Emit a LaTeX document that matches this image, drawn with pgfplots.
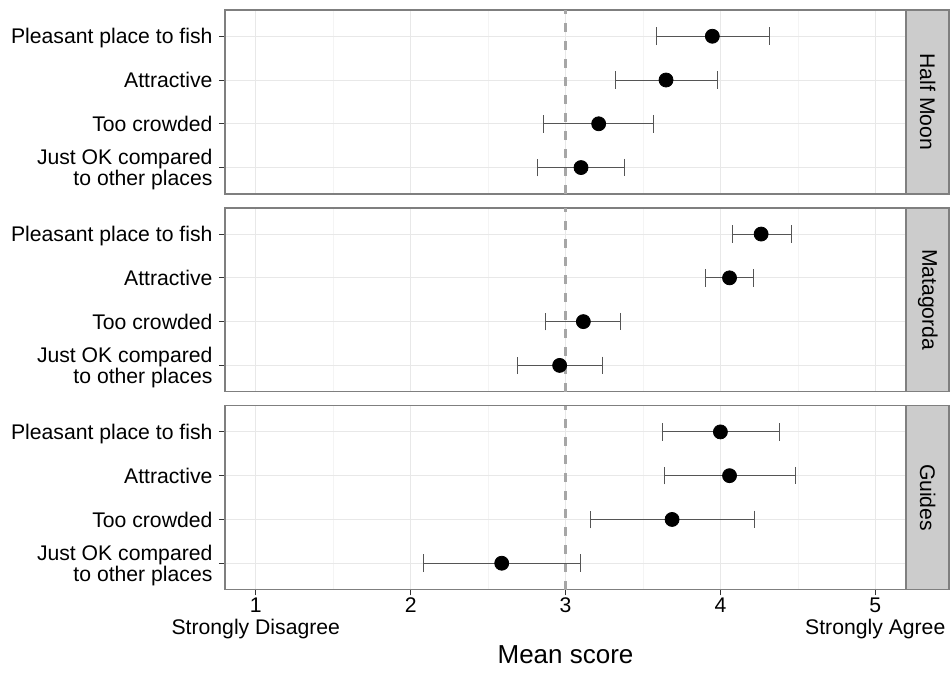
\documentclass[border=0pt]{standalone}
\usepackage{pgfplots}
\pgfplotsset{compat=1.18}
\usepackage{pgfplotstable}
\usepackage{fontspec}
\setmainfont{Liberation Sans}
\usetikzlibrary{calc}

\definecolor{bordc}{HTML}{7F7F7F}
\definecolor{stripc}{HTML}{CCCCCC}
\definecolor{gridc}{HTML}{E8E8E8}
\definecolor{gridm}{HTML}{F4F4F4}
\definecolor{errc}{HTML}{555555}
\definecolor{dashc}{HTML}{A6A6A6}
\definecolor{tickc}{HTML}{333333}

\pgfplotstableread{
y mean lo hi
4 3.948 3.589 4.314
3 3.649 3.325 3.981
2 3.214 2.858 3.565
1 3.100 2.822 3.382
}\halfmoon
\pgfplotstableread{
y mean lo hi
4 4.263 4.077 4.458
3 4.059 3.906 4.212
2 3.115 2.870 3.358
1 2.962 2.690 3.238
}\matagorda
\pgfplotstableread{
y mean lo hi
4 4.000 3.628 4.380
3 4.059 3.637 4.488
2 3.688 3.160 4.218
1 2.588 2.085 3.094
}\guides

\pgfplotsset{
  facet/.style={
    scale only axis, width=341pt, height=92pt,
    anchor=south west,
    xmin=0.8, xmax=5.2, ymin=0.4, ymax=4.6,
    xtick={1,2,3,4,5}, minor xtick={1.5,2.5,3.5,4.5},
    ytick={1,2,3,4},
    yticklabels={{Just OK compared\\to other places},{Too crowded},{Attractive},{Pleasant place to fish}},
    yticklabel style={align=right, font=\fontsize{10.6}{10.6}\selectfont, inner sep=0pt, xshift=-3pt, text depth=0pt, text=black},
    xtick pos=bottom, ytick pos=left,
    grid=both,
    major grid style={draw=gridc, line width=0.5pt},
    minor grid style={draw=gridm, line width=0.3pt},
    axis line style={draw=bordc, line width=0.8pt},
    tick align=outside,
    major tick length=3pt, minor tick length=0pt,
    tick style={draw=tickc, line width=0.5pt},
  },
  errplot/.style={
    forget plot, only marks, mark=none,
    error bars/.cd, x dir=both, x explicit,
    error bar style={draw=errc, line width=0.5pt},
    error mark options={draw=errc, rotate=90, mark size=4.4pt, line width=0.5pt},
  },
  ptplot/.style={only marks, mark=*, mark size=3.5pt, black, mark options={fill=black, draw=black}},
}

\newcommand{\facetplots}[1]{%
  \draw[dashc, line width=1.1pt, dash pattern=on 4.5pt off 4.5pt] (axis cs:3,0.4) -- (axis cs:3,4.6);
  \addplot[errplot] table[x=mean, y=y, x error plus expr=\thisrow{hi}-\thisrow{mean}, x error minus expr=\thisrow{mean}-\thisrow{lo}]{#1};
  \addplot[ptplot] table[x=mean, y=y]{#1};
}

\newcommand{\strip}[2]{%
  \draw[fill=stripc, draw=bordc, line width=0.8pt] (#1.south east) rectangle ([xshift=21.5pt]#1.north east);
  \node[rotate=-90, font=\fontsize{10.6}{11.6}\selectfont, text=black] at ([xshift=10.75pt]$(#1.south east)!0.5!(#1.north east)$) {#2};
}

\begin{document}
\begin{tikzpicture}
\path (0,0) rectangle (475pt,336.5pt);

\begin{axis}[facet, name=hm, at={(112.5pt,239.5pt)}, xticklabels={}, xmajorticks=false]
\facetplots{\halfmoon}
\end{axis}
\strip{hm}{Half Moon}

\begin{axis}[facet, name=mg, at={(112.5pt,140.5pt)}, xticklabels={}, xmajorticks=false]
\facetplots{\matagorda}
\end{axis}
\strip{mg}{Matagorda}

\begin{axis}[facet, name=gd, at={(112.5pt,41.5pt)},
  xticklabels={{1\\Strongly Disagree},2,3,4,{5\\Strongly Agree}},
  xticklabel style={align=center, font=\fontsize{10.6}{11.2}\selectfont, inner sep=1pt, text=black},
  xlabel={Mean score},
  xlabel style={font=\fontsize{13}{15}\selectfont, inner sep=0pt, yshift=-2pt}]
\facetplots{\guides}
\end{axis}
\strip{gd}{Guides}

\end{tikzpicture}
\end{document}
